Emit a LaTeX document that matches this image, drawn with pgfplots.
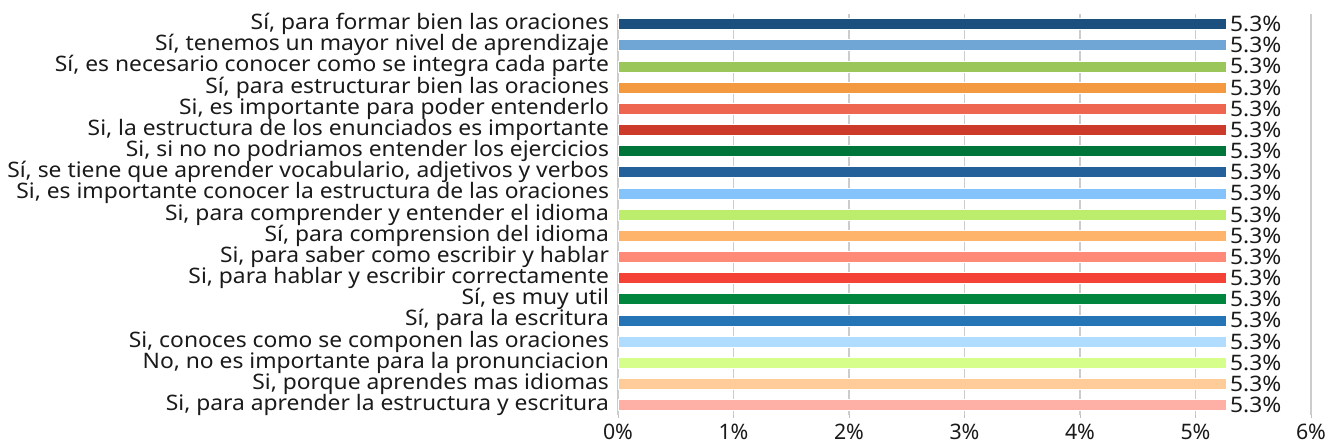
\documentclass[border=0pt]{standalone}
\usepackage{pgfplots}
\pgfplotsset{compat=1.18}
\usepackage{fontspec}
\setmainfont{Noto Sans}
\newfontfamily\lab{Noto Sans}[FakeStretch=1.07]

\definecolor{c1}{HTML}{1B4F7D}
\definecolor{c2}{HTML}{70A6D6}
\definecolor{c3}{HTML}{9BC75A}
\definecolor{c4}{HTML}{F39A40}
\definecolor{c5}{HTML}{EF6650}
\definecolor{c6}{HTML}{CC3A2A}
\definecolor{c7}{HTML}{00753A}
\definecolor{c8}{HTML}{24619A}
\definecolor{c9}{HTML}{85C4FB}
\definecolor{c10}{HTML}{BCED6C}
\definecolor{c11}{HTML}{FFB46B}
\definecolor{c12}{HTML}{FF8A78}
\definecolor{c13}{HTML}{F44336}
\definecolor{c14}{HTML}{00853F}
\definecolor{c15}{HTML}{2574B5}
\definecolor{c16}{HTML}{B0DCFF}
\definecolor{c17}{HTML}{D5FF8A}
\definecolor{c18}{HTML}{FFCB99}
\definecolor{c19}{HTML}{FFB0A6}
\definecolor{txt}{HTML}{1A1A1A}

\begin{document}
\begin{tikzpicture}[x=1pt,y=1pt]
\def\px{0.75pt}
\begin{axis}[
    name=ax,
    scale only axis,
    width=693*\px, height=401*\px,
    xbar, bar shift=0pt, bar width=11*\px,
    xmin=0, xmax=6,
    ymin=-0.47, ymax=18.47,
    y dir=reverse,
    xtick={0,1,2,3,4,5,6},
    xticklabel={\pgfmathprintnumber{\tick}\%},
    /pgf/number format/assume math mode=true,
    ytick={0,...,18},
    yticklabels={
        {Sí, para formar bien las oraciones},
        {Sí, tenemos un mayor nivel de aprendizaje},
        {Sí, es necesario conocer como se integra cada parte},
        {Sí, para estructurar bien las oraciones},
        {Si, es importante para poder entenderlo},
        {Si, la estructura de los enunciados es importante},
        {Si, si no no podriamos entender los ejercicios},
        {Sí, se tiene que aprender vocabulario, adjetivos y verbos},
        {Si, es importante conocer la estructura de las oraciones},
        {Si, para comprender y entender el idioma},
        {Sí, para comprension del idioma},
        {Si, para saber como escribir y hablar},
        {Si, para hablar y escribir correctamente},
        {Sí, es muy util},
        {Sí, para la escritura},
        {Si, conoces como se componen las oraciones},
        {No, no es importante para la pronunciacion},
        {Si, porque aprendes mas idiomas},
        {Si, para aprender la estructura y escritura}
    },
    xticklabel style={font=\fontsize{16}{16}\selectfont, text=txt, yshift=-1pt},
    yticklabel style={font=\lab\fontsize{16}{16}\selectfont, text=txt, xshift=-1pt},
    ytick style={draw=none},
    xtick style={draw=gray!50, line width=0.6pt},
    tick align=outside,
    xtick pos=bottom,
    major tick length=3*\px,
    xmajorgrids,
    grid style={draw=gray!40, line width=0.8pt},
    axis line style={draw=none},
    clip=false,
    nodes near coords={\pgfmathprintnumber[fixed,fixed zerofill,precision=1]{\pgfplotspointmeta}\%},
    nodes near coords style={anchor=west, inner sep=0pt, xshift=4*\px, font=\lab\fontsize{16}{16}\selectfont, text=txt},
    every axis plot/.append style={draw=white, line width=0.3pt},
]
\addplot[fill=c1] coordinates {(5.263,0)};
\addplot[fill=c2] coordinates {(5.263,1)};
\addplot[fill=c3] coordinates {(5.263,2)};
\addplot[fill=c4] coordinates {(5.263,3)};
\addplot[fill=c5] coordinates {(5.263,4)};
\addplot[fill=c6] coordinates {(5.263,5)};
\addplot[fill=c7] coordinates {(5.263,6)};
\addplot[fill=c8] coordinates {(5.263,7)};
\addplot[fill=c9] coordinates {(5.263,8)};
\addplot[fill=c10] coordinates {(5.263,9)};
\addplot[fill=c11] coordinates {(5.263,10)};
\addplot[fill=c12] coordinates {(5.263,11)};
\addplot[fill=c13] coordinates {(5.263,12)};
\addplot[fill=c14] coordinates {(5.263,13)};
\addplot[fill=c15] coordinates {(5.263,14)};
\addplot[fill=c16] coordinates {(5.263,15)};
\addplot[fill=c17] coordinates {(5.263,16)};
\addplot[fill=c18] coordinates {(5.263,17)};
\addplot[fill=c19] coordinates {(5.263,18)};
\end{axis}
\pgfresetboundingbox
\path[use as bounding box] ([xshift=-618*\px, yshift=-32*\px]ax.south west) rectangle ([xshift=21*\px, yshift=14*\px]ax.north east);
\end{tikzpicture}
\end{document}
